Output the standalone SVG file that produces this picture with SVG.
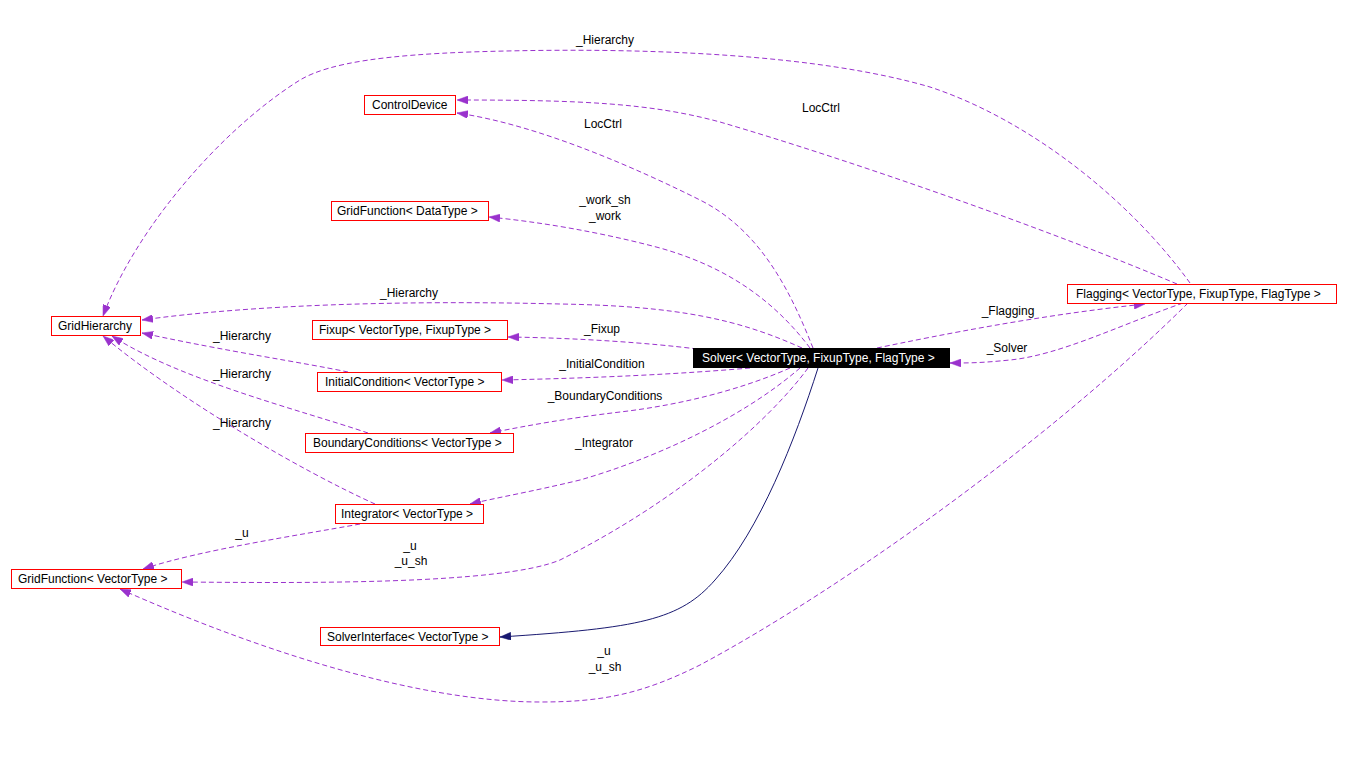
<svg xmlns="http://www.w3.org/2000/svg" width="1349" height="758" viewBox="0 0 1349 758">
<style>
  .box { fill: #ffffff; stroke: #ff0000; stroke-width: 1; }
  .sel { fill: #000000; stroke: #000000; stroke-width: 1; }
  .t { font-family: "Liberation Sans", Arial, sans-serif; font-size: 12px; fill: #000000; }
  .tw { font-family: "Liberation Sans", Arial, sans-serif; font-size: 12px; fill: #ffffff; }
  .lbl { font-family: "Liberation Sans", Arial, sans-serif; font-size: 12px; fill: #000000; text-anchor: middle; }
  .use { fill: none; stroke: #9a32cd; stroke-width: 1; stroke-dasharray: 5,3; marker-end: url(#ap); }
  .inh { fill: none; stroke: #191970; stroke-width: 1; marker-end: url(#an); }
</style>
<defs>
  <marker id="ap" markerUnits="userSpaceOnUse" markerWidth="12" markerHeight="8" refX="11" refY="4" orient="auto">
    <path d="M0,0 L11,4 L0,8 z" fill="#9a32cd" stroke="#9a32cd" stroke-width="0.5"/>
  </marker>
  <marker id="an" markerUnits="userSpaceOnUse" markerWidth="12" markerHeight="8" refX="11" refY="4" orient="auto">
    <path d="M0,0 L11,4 L0,8 z" fill="#191970" stroke="#191970" stroke-width="0.5"/>
  </marker>
</defs>
<rect width="1349" height="758" fill="#ffffff"/>

<g id="connectors">
  <path class="use" d="M1190,283 C1130,200 1030,120 930,87 C820,55 650,46 470,52 C390,55 330,62 300,80 C220,130 135,230 103,316"/>
  <path class="use" d="M1177,284 C1050,230 850,160 720,122 C650,103 580,100 457,100"/>
  <path class="use" d="M813,348 C790,290 760,230 700,200 C640,170 540,125 457,113"/>
  <path class="use" d="M810,348 C770,295 720,265 660,248 C600,232 540,222 489,217"/>
  <path class="use" d="M802,348 C740,320 680,306 560,304 C400,300 250,305 142,320"/>
  <path class="use" d="M697,349 C650,343 580,338 508,337"/>
  <path class="use" d="M750,368 C680,374 600,378 502,380"/>
  <path class="use" d="M790,368 C740,390 680,405 620,412 C570,418 530,425 490,433"/>
  <path class="use" d="M800,368 C740,420 650,460 580,480 C530,492 500,497 470,504"/>
  <path class="use" d="M808,368 C770,420 680,500 560,560 C500,585 300,583 182,582"/>
  <path class="inh" d="M818,368 C795,440 760,530 715,580 C680,620 640,628 500,637"/>
  <path class="use" d="M877,348 C940,335 1040,315 1145,304"/>
  <path class="use" d="M1183,303 C1120,325 1060,355 1010,360 C980,363 970,363 950,363"/>
  <path class="use" d="M1188,303 C1050,440 840,590 700,665 C640,695 600,702 540,702 C430,702 280,660 120,589"/>
  <path class="use" d="M348,372 C300,362 230,352 142,333"/>
  <path class="use" d="M368,433 C300,410 180,380 112,336"/>
  <path class="use" d="M375,504 C300,470 180,400 103,336"/>
  <path class="use" d="M360,524 C300,535 200,550 143,569"/>

  <text class="lbl" x="605" y="44">_Hierarchy</text>
  <text class="lbl" x="821" y="112">LocCtrl</text>
  <text class="lbl" x="603" y="128">LocCtrl</text>
  <text class="lbl" x="605" y="204">_work_sh</text>
  <text class="lbl" x="605" y="220">_work</text>
  <text class="lbl" x="409" y="297">_Hierarchy</text>
  <text class="lbl" x="602" y="333">_Fixup</text>
  <text class="lbl" x="602" y="368">_InitialCondition</text>
  <text class="lbl" x="605" y="400">_BoundaryConditions</text>
  <text class="lbl" x="604" y="447">_Integrator</text>
  <text class="lbl" x="410" y="550">_u</text>
  <text class="lbl" x="411" y="565">_u_sh</text>
  <text class="lbl" x="1008" y="315">_Flagging</text>
  <text class="lbl" x="1007" y="352">_Solver</text>
  <text class="lbl" x="604" y="655">_u</text>
  <text class="lbl" x="605" y="671">_u_sh</text>
  <text class="lbl" x="242" y="340">_Hierarchy</text>
  <text class="lbl" x="242" y="378">_Hierarchy</text>
  <text class="lbl" x="242" y="427">_Hierarchy</text>
  <text class="lbl" x="242" y="537">_u</text>
</g>

<g id="ControlDevice">
  <rect class="box" x="364.5" y="95.5" width="91" height="19"/>
  <text class="t" x="372" y="109">ControlDevice</text>
</g>
<g id="GridFunctionDataType">
  <rect class="box" x="331.5" y="201.5" width="157" height="19"/>
  <text class="t" x="337" y="215">GridFunction&lt; DataType &gt;</text>
</g>
<g id="GridHierarchy">
  <rect class="box" x="51.5" y="316.5" width="89" height="19"/>
  <text class="t" x="58" y="330">GridHierarchy</text>
</g>
<g id="Fixup">
  <rect class="box" x="312.5" y="320.5" width="195" height="19"/>
  <text class="t" x="319" y="334">Fixup&lt; VectorType, FixupType &gt;</text>
</g>
<g id="InitialCondition">
  <rect class="box" x="317.5" y="372.5" width="184" height="19"/>
  <text class="t" x="325" y="386">InitialCondition&lt; VectorType &gt;</text>
</g>
<g id="BoundaryConditions">
  <rect class="box" x="305.5" y="433.5" width="208" height="19"/>
  <text class="t" x="313" y="447">BoundaryConditions&lt; VectorType &gt;</text>
</g>
<g id="Integrator">
  <rect class="box" x="335.5" y="504.5" width="148" height="19"/>
  <text class="t" x="341" y="518">Integrator&lt; VectorType &gt;</text>
</g>
<g id="GridFunctionVectorType">
  <rect class="box" x="11.5" y="569.5" width="170" height="19"/>
  <text class="t" x="18" y="583">GridFunction&lt; VectorType &gt;</text>
</g>
<g id="SolverInterface">
  <rect class="box" x="320.5" y="627.5" width="179" height="18"/>
  <text class="t" x="327" y="641">SolverInterface&lt; VectorType &gt;</text>
</g>
<g id="Solver">
  <rect class="sel" x="693.5" y="348.5" width="256" height="19"/>
  <text class="tw" x="702" y="362">Solver&lt; VectorType, FixupType, FlagType &gt;</text>
</g>
<g id="Flagging">
  <rect class="box" x="1067.5" y="284.5" width="269" height="19"/>
  <text class="t" x="1076" y="298">Flagging&lt; VectorType, FixupType, FlagType &gt;</text>
</g>
</svg>
